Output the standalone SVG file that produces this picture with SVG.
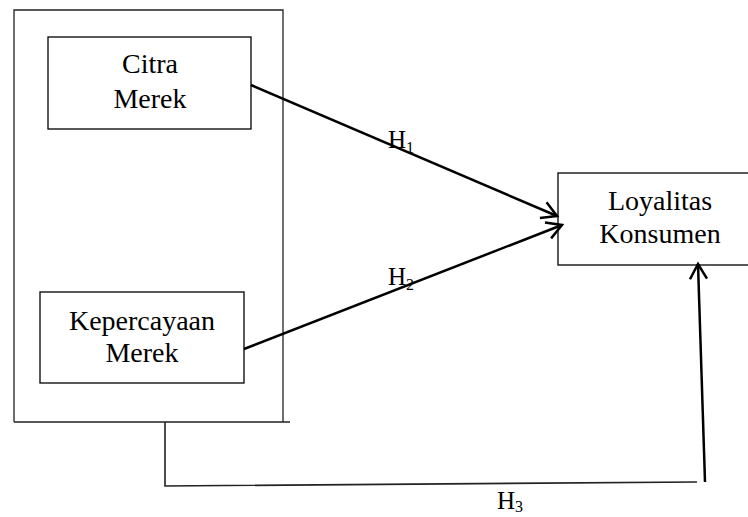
<svg xmlns="http://www.w3.org/2000/svg" width="748" height="517" viewBox="0 0 748 517">
<style>
.box{fill:#fff;stroke:#000;stroke-width:1.3}
.frame{fill:none;stroke:#222;stroke-width:1.3}
.t{font-family:"Liberation Serif","Times New Roman",serif;font-size:28px;fill:#000;text-anchor:middle}
.h{font-family:"Liberation Serif","Times New Roman",serif;font-size:25px;fill:#000}
.sub{font-size:16px}
.arr{fill:none;stroke:#000;stroke-width:2.5;marker-end:url(#open)}
.thin{fill:none;stroke:#222;stroke-width:1.6}
</style>
<defs>
<marker id="open" markerUnits="userSpaceOnUse" markerWidth="30" markerHeight="30" refX="0" refY="0" viewBox="-20 -15 25 30" orient="auto" overflow="visible">
<path d="M-15,-8.5 L0,0 L-15,8.5" fill="none" stroke="#000" stroke-width="2.5"/>
</marker>
</defs>
<g id="outer-frame">
<path class="frame" d="M14,422 L14,10 L283,10 L283,422 M14,422 L290,422"/>
</g>
<g id="citra-merek">
<rect class="box" x="48" y="37" width="203" height="92"/>
<text class="t" x="150" y="73">Citra</text>
<text class="t" x="150" y="108">Merek</text>
</g>
<g id="kepercayaan-merek">
<rect class="box" x="40" y="292" width="204" height="91"/>
<text class="t" x="142" y="330">Kepercayaan</text>
<text class="t" x="142" y="362">Merek</text>
</g>
<g id="loyalitas-konsumen">
<rect class="box" x="558" y="173" width="200" height="92"/>
<text class="t" x="660" y="210">Loyalitas</text>
<text class="t" x="660" y="243">Konsumen</text>
</g>
<g id="connectors">
<path class="arr" d="M251,85 L557,216"/>
<path class="arr" d="M244,349 L562,225"/>
<path class="thin" d="M165,422 L165,486 L697,482"/>
<path class="arr" d="M705,482 L698,264"/>
<text class="h" x="388" y="148">H<tspan class="sub" dy="5">1</tspan></text>
<text class="h" x="388" y="285">H<tspan class="sub" dy="5">2</tspan></text>
<text class="h" x="497" y="509">H<tspan class="sub" dy="3">3</tspan></text>
</g>
</svg>
